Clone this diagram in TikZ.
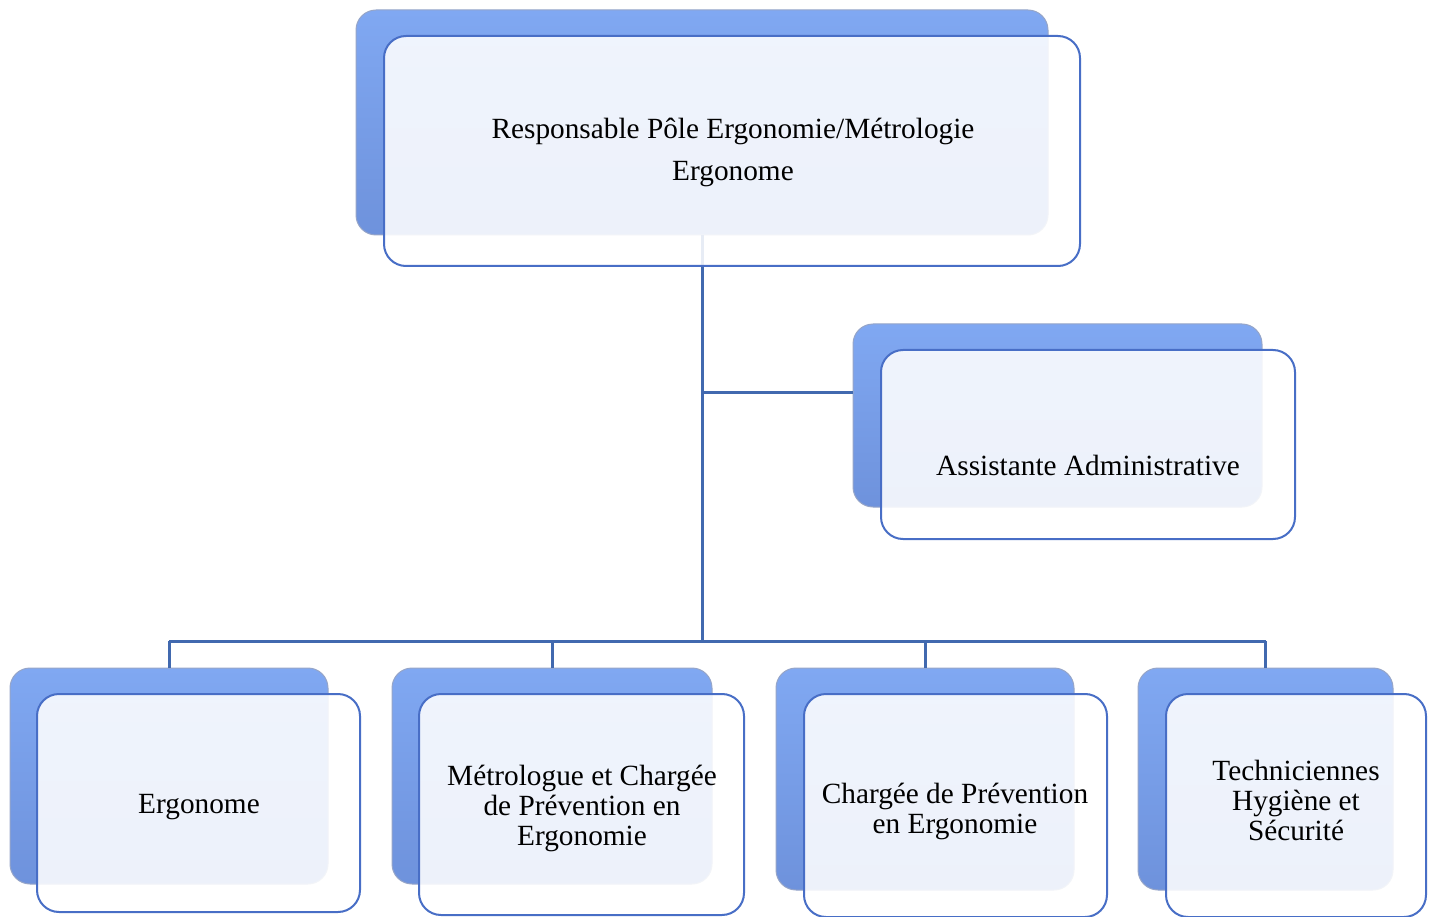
\documentclass[tikz,border=0pt]{standalone}
\usepackage{fontspec}
\setmainfont{Liberation Serif}
\usetikzlibrary{calc}
\definecolor{linecol}{RGB}{65,105,175}
\definecolor{frontborder}{RGB}{72,110,198}
\definecolor{backtop}{RGB}{128,168,242}
\definecolor{backbot}{RGB}{110,146,220}
\definecolor{backedge}{RGB}{150,165,200}
\tikzset{
  backbox/.style={rectangle, rounded corners=20pt, top color=backtop, bottom color=backbot, draw=backedge, line width=1pt, inner sep=0pt},
  frontbox/.style={rectangle, rounded corners=22pt, fill=white, fill opacity=0.88, draw=frontborder, draw opacity=1, line width=2pt, inner sep=0pt},
  lbl/.style={font=\fontsize{29.3}{30}\selectfont, align=center, text=black},
  conn/.style={draw=linecol, line width=3pt},
}
\begin{document}
\begin{tikzpicture}[x=1pt,y=-1pt]
\useasboundingbox (0,0) rectangle (1430,917);
% back boxes
\node[backbox, minimum width=692pt, minimum height=225pt] (topb) at (702,122.5) {};
\node[backbox, minimum width=409pt, minimum height=183pt] (asb) at (1057.5,415.5) {};
\node[backbox, minimum width=318pt, minimum height=216pt] (b1b) at (169,776) {};
\node[backbox, minimum width=320pt, minimum height=216pt] (b2b) at (552,776) {};
\node[backbox, minimum width=298pt, minimum height=222pt] (b3b) at (925,779) {};
\node[backbox, minimum width=255pt, minimum height=222pt] (b4b) at (1265.5,779) {};
% connectors
\coordinate (bus) at (702,641);
\coordinate (asj) at (702,392);
\draw[conn] (topb.south) -- (bus);
\draw[conn] (asj) -- (asj -| asb.west);
\draw[conn] (b1b.north |- bus) -- (b4b.north |- bus);
\draw[conn] (b1b.north |- bus) -- (b1b.north);
\draw[conn] (b2b.north |- bus) -- (b2b.north);
\draw[conn] (b3b.north |- bus) -- (b3b.north);
\draw[conn] (b4b.north |- bus) -- (b4b.north);
% front boxes
\node[frontbox, minimum width=696pt, minimum height=230pt] (topf) at (732,151) {};
\node[frontbox, minimum width=414pt, minimum height=189pt] (asf) at (1088,444.5) {};
\node[frontbox, minimum width=323pt, minimum height=218pt] (b1f) at (198.5,803) {};
\node[frontbox, minimum width=325pt, minimum height=221pt] (b2f) at (581.5,804.5) {};
\node[frontbox, minimum width=303pt, minimum height=223pt] (b3f) at (955.5,805.5) {};
\node[frontbox, minimum width=260pt, minimum height=223pt] (b4f) at (1296,805.5) {};
% labels
\node[lbl] (topt) at (733,152) {Responsable Pôle Ergonomie/Métrologie\\[12pt]Ergonome};
\node[lbl] (ast) at (1088,465.5) {Assistante Administrative};
\node[lbl] (b1t) at (199,807) {Ergonome};
\node[lbl] (b2t) at (582,808) {Métrologue et Chargée\\de Prévention en\\Ergonomie};
\node[lbl] (b3t) at (955,811) {Chargée de Prévention\\en Ergonomie};
\node[lbl] (b4t) at (1296,800.5) {Techniciennes\\Hygiène et\\Sécurité};
\end{tikzpicture}
\end{document}
